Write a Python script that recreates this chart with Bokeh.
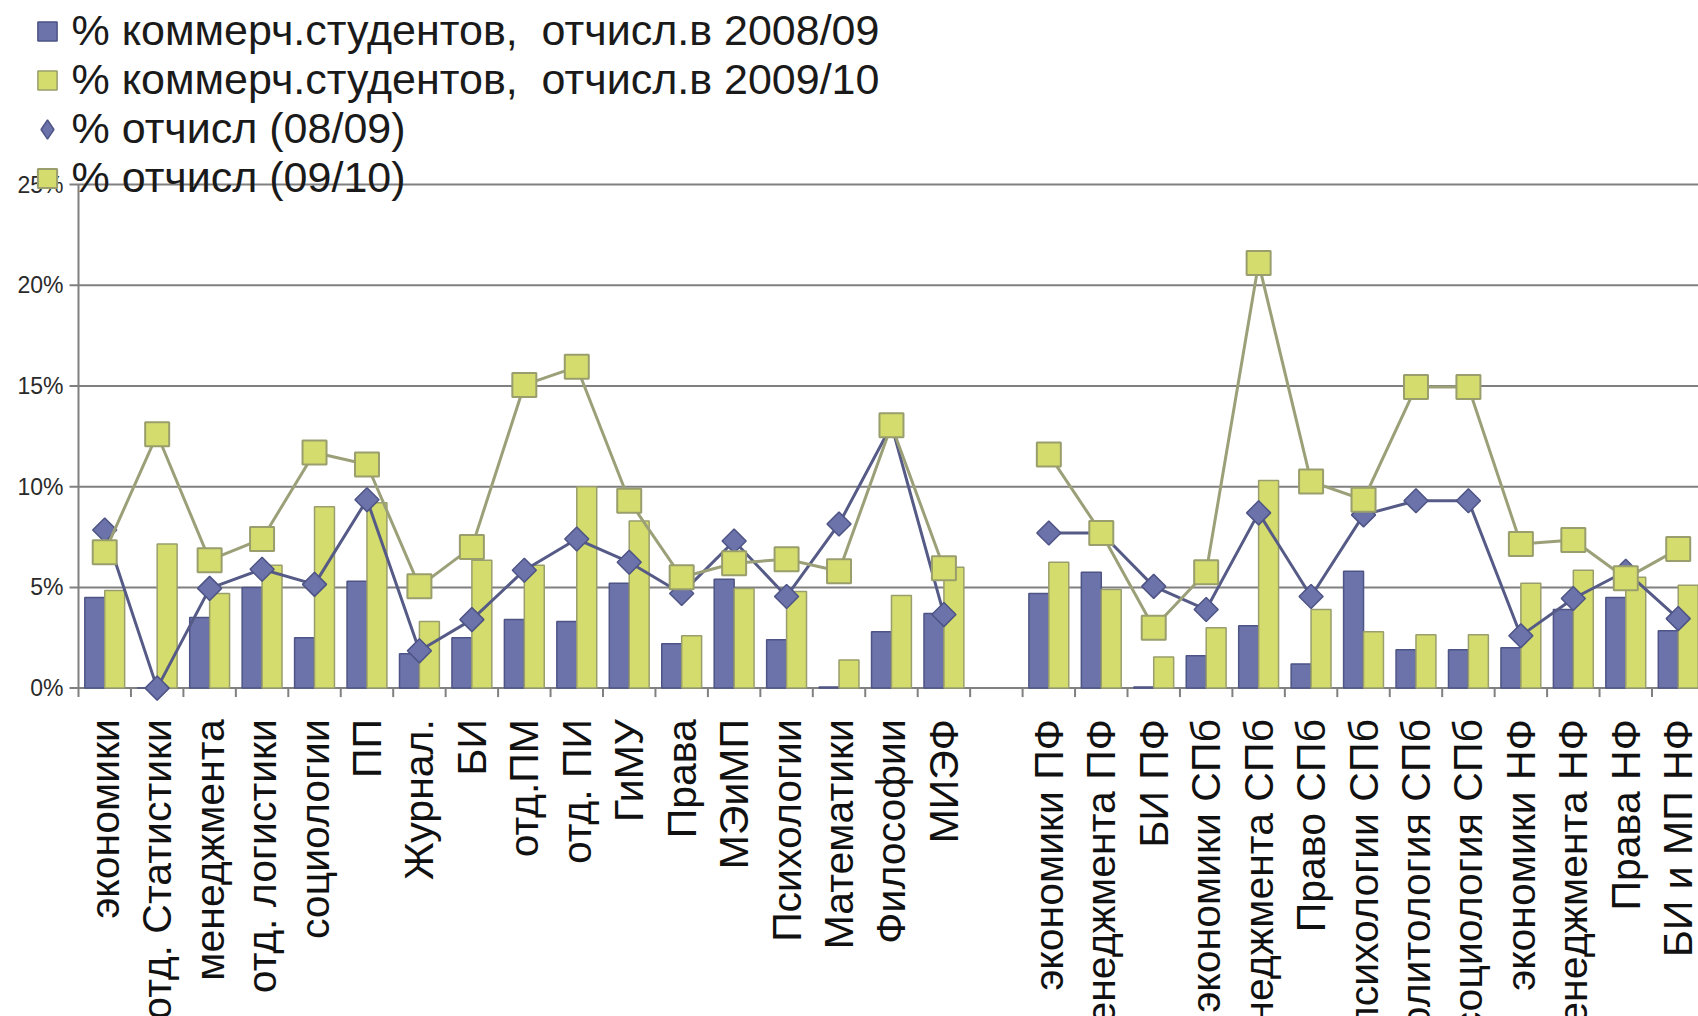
import math
from bokeh.plotting import figure
from bokeh.models import Range1d, ColumnDataSource, Legend, LegendItem
from bokeh.transform import dodge
from bokeh.core.properties import value
from bokeh.embed import file_html
from bokeh.resources import INLINE

nan = float("nan")

categories = ["экономики", "отд. Статистики", "менеджмента", "отд. логистики", "социологии",
              "ПП", "Журнал.", "БИ", "отд.ПМ", "отд. ПИ", "ГиМУ", "Права", "МЭиМП",
              "Психологии", "Математики", "Философии", "МИЭФ", "",
              "экономики ПФ", "менеджмента ПФ", "БИ ПФ", "экономики СПб", "менеджмента СПб",
              "Право СПб", "психологии СПб", "политология СПб", "социология СПб",
              "экономики НФ", "менеджмента НФ", "Права НФ", "БИ и МП НФ"]

comm_0809 = [4.5, 0.0, 3.5, 5.0, 2.5, 5.3, 1.7, 2.5, 3.4, 3.3, 5.2, 2.2, 5.4, 2.4, 0.05, 2.8, 3.7, nan,
             4.7, 5.75, 0.05, 1.6, 3.1, 1.2, 5.8, 1.9, 1.9, 2.0, 3.9, 4.5, 2.85]
comm_0910 = [4.85, 7.15, 4.7, 6.1, 9.0, 9.2, 3.3, 6.35, 6.1, 10.0, 8.3, 2.6, 4.95, 4.8, 1.4, 4.6, 6.0, nan,
             6.25, 4.9, 1.55, 3.0, 10.3, 3.9, 2.8, 2.65, 2.65, 5.2, 5.85, 5.5, 5.1]
drop_0809 = [7.85, 0.0, 4.95, 5.9, 5.15, 9.35, 1.85, 3.4, 5.85, 7.4, 6.25, 4.7, 7.3, 4.55, 8.15, 13.05, 3.65, nan,
             7.7, 7.7, 5.05, 3.9, 8.7, 4.55, 8.6, 9.3, 9.3, 2.6, 4.45, 5.8, 3.45]
drop_0910 = [6.75, 12.6, 6.35, 7.4, 11.7, 11.1, 5.05, 7.0, 15.05, 15.95, 9.3, 5.5, 6.2, 6.4, 5.8, 13.05, 5.95, nan,
             11.6, 7.7, 3.0, 5.75, 21.1, 10.25, 9.35, 14.95, 14.95, 7.15, 7.35, 5.45, 6.9]

y_ticks = [0, 5, 10, 15, 20, 25]

legend_labels = ["% коммерч.студентов,  отчисл.в 2008/09",
                 "% коммерч.студентов,  отчисл.в 2009/10",
                 "% отчисл (08/09)",
                 "% отчисл (09/10)"]

BLUE = "#6b73aa"
BLUE_EDGE = "#4e5485"
YELLOW = "#d5dc6e"
YELLOW_EDGE = "#999e6c"
DIAM_LINE = "#555b86"
SQ_LINE = "#9ca078"
GRID = "#808080"
FONT = "Liberation Sans"

n = len(categories)
src = ColumnDataSource(dict(
    x=[i + 0.5 for i in range(n)],
    cat=categories,
    a=comm_0809, b=comm_0910, c=drop_0809, d=drop_0910,
))

W, H = 1698, 1016
AXIS_X = 78.0          # pixel position of the value axis
px_per_cat = 52.45
px_per_unit = 20.144
zero_y = 687.6

x_start = -AXIS_X / px_per_cat
x_end = (W - AXIS_X) / px_per_cat
p = figure(width=W, height=H,
           x_range=Range1d(x_start, x_end),
           y_range=Range1d(-(H - zero_y) / px_per_unit, zero_y / px_per_unit),
           x_axis_type=None, y_axis_type=None,
           output_backend="svg", toolbar_location=None,
           min_border_left=0, min_border_right=0, min_border_top=0, min_border_bottom=0)
p.outline_line_color = None
p.background_fill_color = "white"
p.grid.visible = False

tick_len = 9 / px_per_cat
# horizontal grid lines (with their outer ticks) at the value ticks
grid_src = ColumnDataSource(dict(y=y_ticks, lab=[f"{t}%" for t in y_ticks]))
p.segment(x0=-tick_len, y0="y", x1=x_end, y1="y", source=grid_src, line_color=GRID, line_width=2)
# value axis line
p.segment(x0=[0], y0=[y_ticks[0]], x1=[0], y1=[y_ticks[-1]], line_color=GRID, line_width=2)
# value tick labels
p.text(x=-15 / px_per_cat, y="y", text="lab", source=grid_src, text_align="right",
       text_baseline="middle", text_font=value(FONT), text_font_size="23px", text_color="#2a2a2a")

# category boundary ticks
bounds_src = ColumnDataSource(dict(bx=list(range(n + 1))))
p.segment(x0="bx", y0=0, x1="bx", y1=-9 / px_per_unit, source=bounds_src, line_color=GRID, line_width=2)

# bars
p.vbar(x=dodge("x", -0.19, range=p.x_range), top="a", width=0.38, source=src,
       fill_color=BLUE, line_color=BLUE_EDGE, line_width=1.5)
p.vbar(x=dodge("x", 0.19, range=p.x_range), top="b", width=0.38, source=src,
       fill_color=YELLOW, line_color=YELLOW_EDGE, line_width=1.5)

# lines + markers
p.line("x", "c", source=src, line_color=DIAM_LINE, line_width=3)
p.scatter("x", "c", source=src, marker="square", angle=math.pi / 4, size=17,
          fill_color=BLUE, line_color=BLUE_EDGE, line_width=1.5)
p.line("x", "d", source=src, line_color=SQ_LINE, line_width=3)
r_d = p.scatter("x", "d", source=src, marker="square", size=24,
                fill_color=YELLOW, line_color=YELLOW_EDGE, line_width=2)

# category labels (rotated, clipped by the bottom of the page)
p.text(x="x", y=-(31.0 / px_per_unit), text="cat", source=src, angle=math.pi / 2,
       text_align="right", text_baseline="middle",
       text_font=value(FONT), text_font_size="41px", text_color="#111111")

# legend swatches (zero-size proxies: the legend sizes its markers from the glyph box)
leg_a = p.scatter("x", "a", source=src, marker="square", size=0,
                  fill_color=BLUE, line_color=BLUE_EDGE, line_width=1.5)
leg_b = p.scatter("x", "b", source=src, marker="square", size=0,
                  fill_color=YELLOW, line_color=YELLOW_EDGE, line_width=1.5)
leg_c = p.scatter("x", "c", source=src, marker="diamond", size=0,
                  fill_color=BLUE, line_color=BLUE_EDGE, line_width=1.5)

legend = Legend(items=[LegendItem(label=legend_labels[0], renderers=[leg_a]),
                       LegendItem(label=legend_labels[1], renderers=[leg_b]),
                       LegendItem(label=legend_labels[2], renderers=[leg_c]),
                       LegendItem(label=legend_labels[3], renderers=[r_d])],
                location=(22.5, 814), orientation="vertical",
                glyph_width=48, glyph_height=48, label_height=49,
                label_standoff=1, spacing=0, padding=0, margin=0,
                border_line_color=None, background_fill_alpha=0,
                label_text_font=FONT, label_text_font_size="43px", label_text_color="#1a1a1a")
p.add_layout(legend)

open("out.html", "w", encoding="utf-8").write(file_html(p, INLINE))
